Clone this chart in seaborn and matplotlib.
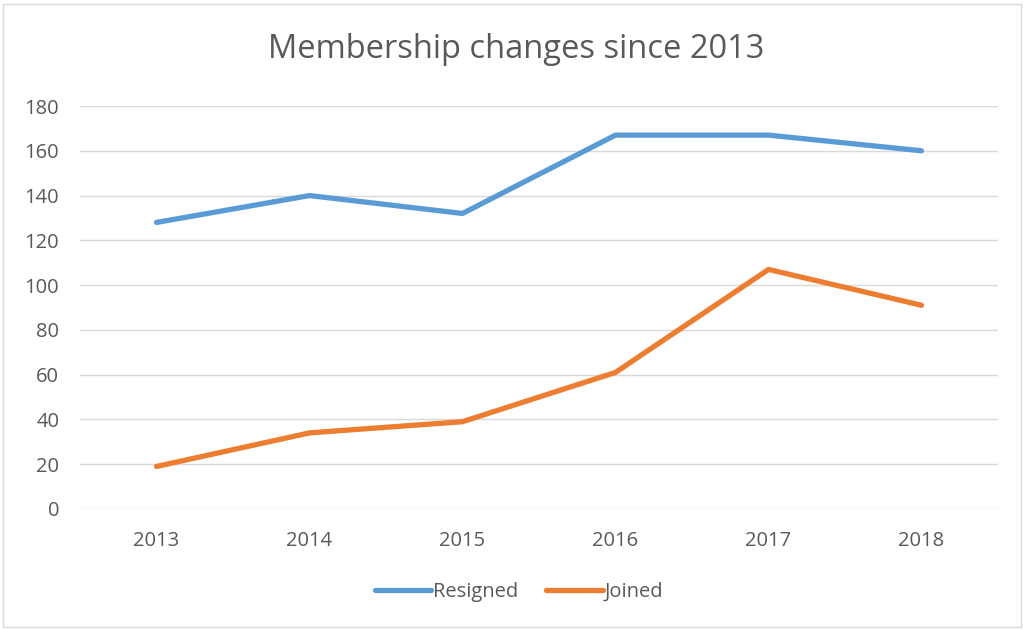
import matplotlib
matplotlib.use('Agg')
import matplotlib.pyplot as plt
from matplotlib.patches import Rectangle
import pandas as pd
import seaborn as sns

YEARS = [2013, 2014, 2015, 2016, 2017, 2018]
RESIGNED = [128, 140, 132, 167, 167, 160]
JOINED = [19, 34, 39, 61, 107, 91]
SERIES = ['Resigned', 'Joined']
COLORS = {'Resigned': '#5B9BD5', 'Joined': '#ED7D31'}

df = pd.DataFrame({
    'year': YEARS * 2,
    'value': RESIGNED + JOINED,
    'series': ['Resigned'] * len(YEARS) + ['Joined'] * len(YEARS),
})

sns.set_theme(style='white')
plt.rcParams['font.family'] = ['Open Sans', 'DejaVu Sans']
TXT = '#595959'

fig = plt.figure(figsize=(10.25, 6.3), dpi=100)
ax = fig.add_axes([80 / 1025, 1 - 509 / 630, 918 / 1025, 403 / 630])

sns.lineplot(data=df, x='year', y='value', hue='series', hue_order=SERIES,
             palette=COLORS, linewidth=3.8, ax=ax, legend=False,
             solid_capstyle='round')

ax.set_xlim(2012.5, 2018.5)
ax.set_ylim(0, 180)
ax.set_yticks(range(0, 181, 20))
ax.set_xticks(YEARS)
ax.set_xticklabels([str(y) for y in YEARS])
ax.grid(axis='y', color='#D9D9D9', linewidth=1)
ax.set_axisbelow(True)
for s in ax.spines.values():
    s.set_visible(False)
ax.tick_params(axis='both', length=0, labelsize=14.5, colors=TXT)
ax.tick_params(axis='y', pad=15)
ax.tick_params(axis='x', pad=16)
ax.set_xlabel('')
ax.set_ylabel('')

fig.text(516 / 1025, 1 - 50 / 630, 'Membership changes since 2013',
         ha='center', va='center', fontsize=23.5, color=TXT)

handles = [plt.Line2D([], [], color=COLORS[s], linewidth=3.8, solid_capstyle='round')
           for s in SERIES]
fig.legend(handles, SERIES, loc='center', bbox_to_anchor=(519 / 1025, 1 - 592 / 630),
           ncol=2, frameon=False, fontsize=14.5, labelcolor=TXT,
           handlelength=2.8, handletextpad=0.1, columnspacing=1.4)

fig.patches.append(Rectangle((3 / 1025, 0.004), 1018 / 1025, 0.99, transform=fig.transFigure,
                             fill=False, edgecolor='#D9D9D9', linewidth=1))

fig.savefig('out.png', dpi=100, facecolor='white')
